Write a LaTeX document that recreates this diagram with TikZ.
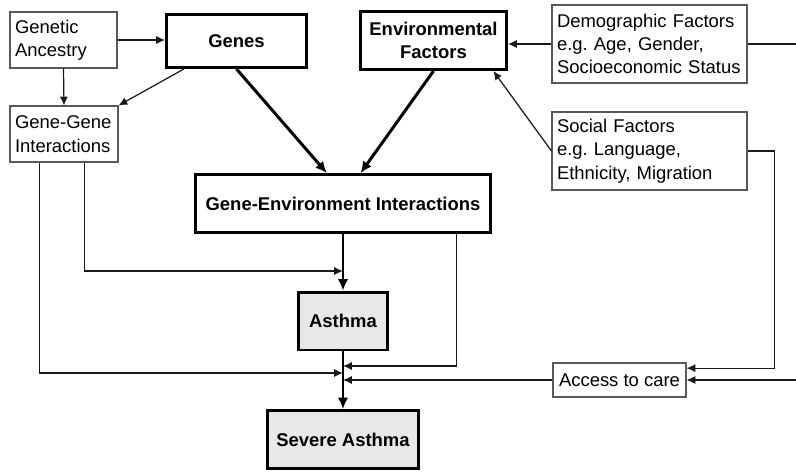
\documentclass[tikz,border=0pt]{standalone}
\usepackage{fontspec}
\setmainfont{Liberation Sans}
\frenchspacing
\usetikzlibrary{arrows.meta, positioning}

\tikzset{
  factorbox/.style={draw=black!65, line width=0.6pt, align=left, inner xsep=0.1cm, font=\fontsize{10.5}{13.3}\selectfont},
  keybox/.style={draw=black, line width=1.7pt, align=center, font=\fontsize{10.5}{13}\selectfont\bfseries},
  outcome/.style={keybox, fill=black!9},
  link/.style={-{Latex[length=5pt,width=4.6pt]}, black!90, line width=0.7pt},
  mainlink/.style={-{Latex[length=6.5pt,width=6pt]}, black, line width=1.7pt}
}

\begin{document}
\begin{tikzpicture}[x=0.02cm, y=-0.02cm]
\useasboundingbox (0,0) rectangle (796,471);

% Left column
\node[factorbox, text width=1.94cm, minimum width=2.14cm, minimum height=1.12cm] (anc) at (63.5,40) {Genetic\\Ancestry};
\node[factorbox, text width=1.96cm, minimum width=2.16cm, minimum height=1.12cm] (gg) at (64,134) {Gene-Gene\\Interactions};

% Top row
\node[keybox, minimum width=2.8cm, minimum height=1.06cm] (genes) at (236.5,41) {Genes};
\node[keybox, minimum width=2.92cm, minimum height=1.16cm] (env) at (433.5,40.5) {Environmental\\Factors};

% Right column
\node[factorbox, text width=3.7cm, minimum height=1.56cm] (demo) at (649.5,44) {Demographic Factors\\e.g. Age, Gender,\\Socioeconomic Status};
\node[factorbox, text width=3.7cm, minimum height=1.56cm] (social) at (649.5,151) {Social Factors\\e.g. Language,\\Ethnicity, Migration};
\node[factorbox, align=center, minimum width=2.66cm, minimum height=0.68cm] (access) at (619.5,380) {Access to care};

% Middle column
\node[keybox, minimum width=5.9cm, minimum height=1.16cm] (gei) at (343,203.5) {Gene-Environment Interactions};
\node[outcome, minimum width=1.78cm, minimum height=1.16cm] (asthma) at (343,321) {Asthma};
\node[outcome, minimum width=3.04cm, minimum height=1.16cm] (severe) at (343,439.5) {Severe Asthma};

% Junctions on the main line and the right rim
\coordinate (j0) at (343,271);
\coordinate (j1) at (343,366);
\coordinate (j2) at (343,373);
\coordinate (j3) at (343,380);
\coordinate (rim) at (796,380);

% Thin links
\draw[link] (anc.east) -- (anc.east -| genes.west);
\draw[link] (anc.south) -- (gg.north);
\draw[link] (genes.-152) -- (gg.north east);
\draw[link] (demo.west) -- (demo.west -| env.east);
\draw[link] (social.west) -- (env.-27);
\draw[link] (gg.-54) |- (j0);
\draw[link] (gg.-131) |- (j2);
\draw[link] (gei.-15) |- (j1);
\draw[link] (access.west) -- (j3);
\draw[link] (social.east) -- ++(27,0) |- (access.10);
\draw[link] (rim) -- (access.east);
\draw[link, -] (demo.east) -- (demo.east -| rim);

% Main path
\draw[mainlink] (genes.south) -- (gei.118);
\draw[mainlink] (env.south) -- (gei.60);
\draw[mainlink] (gei.south) -- (asthma.north);
\draw[mainlink] (asthma.south) -- (severe.north);

\end{tikzpicture}
\end{document}
